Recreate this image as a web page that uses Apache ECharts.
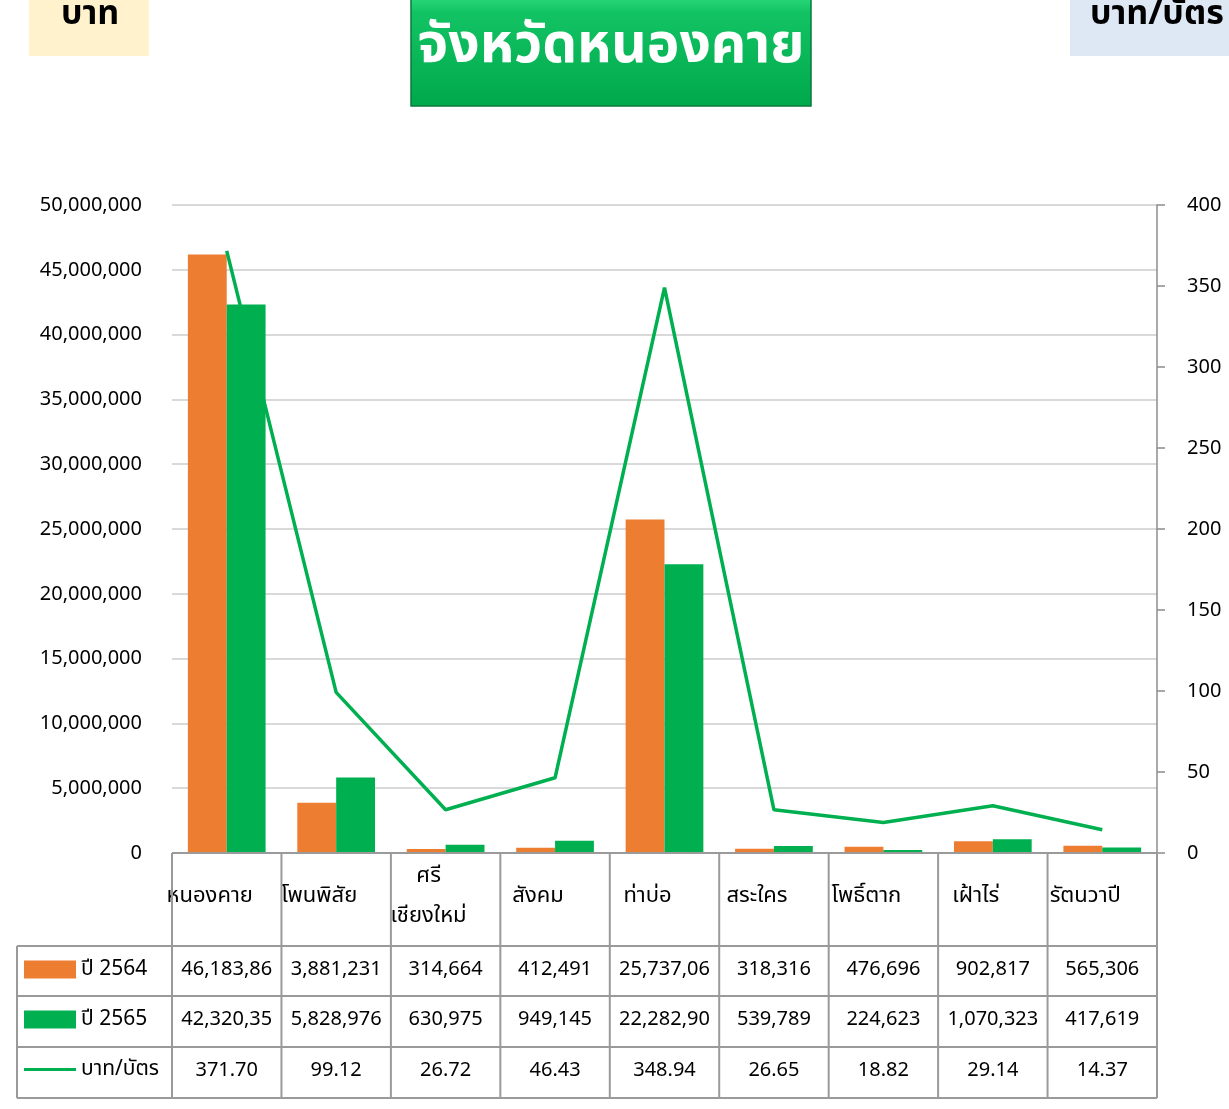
<!DOCTYPE html>
<html>
<head>
<meta charset="utf-8">
<script src="https://cdn.jsdelivr.net/npm/echarts@6/dist/echarts.min.js"></script>
<style>
  html, body { margin: 0; padding: 0; background: #fff; }
  #chart { width: 1229px; height: 1109px; }
</style>
</head>
<body>
<div id="chart"></div>
<script>
// data
const categories = ['หนองคาย', 'โพนพิสัย', 'ศรี\nเชียงใหม่', 'สังคม', 'ท่าบ่อ', 'สระใคร', 'โพธิ์ตาก', 'เฝ้าไร่', 'รัตนวาปี'];
const values2564 = [46183860, 3881231, 314664, 412491, 25737060, 318316, 476696, 902817, 565306];
const values2565 = [42320350, 5828976, 630975, 949145, 22282900, 539789, 224623, 1070323, 417619];
const bahtPerCard = [371.70, 99.12, 26.72, 46.43, 348.94, 26.65, 18.82, 29.14, 14.37];
const seriesNames = ['ปี 2564', 'ปี 2565', 'บาท/บัตร'];
const titleText = 'จังหวัดหนองคาย';
const leftUnit = 'บาท';
const rightUnit = 'บาท/บัตร';

const FONT = '"Noto Sans", "Noto Sans Thai", sans-serif';
const ORANGE = '#ed7d31';
const GREEN = '#00b050';
const GRID = { left: 172, right: 72, top: 205, bottom: 256 };
const ROW_Y = [853, 946, 996, 1047, 1098];
const TABLE_LEFT = 17;

// excel clips long numbers in narrow cells
const cellText = (v) => v.toLocaleString('en-US').slice(0, 9);

const chart = echarts.init(document.getElementById('chart'));

chart.setOption({
  animation: false,
  backgroundColor: '#fff',
  textStyle: { fontFamily: FONT },
  grid: GRID,
  legend: {
    orient: 'vertical',
    left: 19,
    top: 954,
    itemWidth: 52,
    itemHeight: 18,
    itemGap: 29,
    selectedMode: false,
    textStyle: { fontSize: 21, color: '#000', fontFamily: FONT },
    data: [
      { name: seriesNames[0], icon: 'rect' },
      { name: seriesNames[1], icon: 'rect' },
      { name: seriesNames[2], icon: 'path://M0,7.5 L52,7.5 L52,10.5 L0,10.5 Z M0,0 L0.01,0 L0,0.01 Z M0,18 L0.01,18 L0,17.99 Z' }
    ]
  },
  xAxis: {
    type: 'category',
    data: categories,
    axisLine: { show: false },
    axisTick: { show: false },
    axisLabel: {
      interval: 0,
      margin: 43,
      verticalAlign: 'middle',
      lineHeight: 40,
      padding: [0, 34, 0, 0],
      fontSize: 22,
      color: '#000',
      fontFamily: FONT
    }
  },
  yAxis: [
    {
      type: 'value',
      min: 0,
      max: 50000000,
      interval: 5000000,
      axisLine: { show: false },
      axisTick: { show: false },
      axisLabel: {
        margin: 30,
        fontSize: 20,
        color: '#000',
        fontFamily: FONT,
        formatter: (v) => v.toLocaleString('en-US')
      },
      splitLine: { lineStyle: { color: '#d9d9d9', width: 2 } }
    },
    {
      type: 'value',
      min: 0,
      max: 400,
      interval: 50,
      position: 'right',
      axisLine: { show: true, lineStyle: { color: '#8c8c8c', width: 1.5 } },
      axisTick: { show: true, length: 8, lineStyle: { color: '#8c8c8c', width: 1.5 } },
      axisLabel: { margin: 30, fontSize: 20, color: '#000', fontFamily: FONT },
      splitLine: { show: false }
    }
  ],
  series: [
    {
      name: seriesNames[0],
      type: 'bar',
      data: values2564,
      barGap: '0%',
      barCategoryGap: '29%',
      itemStyle: { color: ORANGE }
    },
    {
      name: seriesNames[1],
      type: 'bar',
      data: values2565,
      itemStyle: { color: GREEN }
    },
    {
      name: seriesNames[2],
      type: 'line',
      yAxisIndex: 1,
      data: bahtPerCard,
      symbol: 'none',
      z: 5,
      lineStyle: { color: GREEN, width: 3.5 },
      itemStyle: { color: GREEN }
    }
  ]
});

// data table under the plot, plus header boxes
const plotW = 1229 - GRID.left - GRID.right;
const colW = plotW / categories.length;
const tableRight = GRID.left + plotW;
const lineStyle = { stroke: '#9a9a9a', lineWidth: 2 };
const g = [];

const hLine = (x1, x2, y) => g.push({ type: 'line', shape: { x1, y1: y, x2, y2: y }, style: lineStyle, z: 10 });
const vLine = (x, y1, y2) => g.push({ type: 'line', shape: { x1: x, y1, x2: x, y2 }, style: lineStyle, z: 10 });

hLine(GRID.left, tableRight, ROW_Y[0]);
for (let r = 1; r < ROW_Y.length; r++) hLine(TABLE_LEFT, tableRight, ROW_Y[r]);
for (let i = 0; i <= categories.length; i++) vLine(GRID.left + i * colW, ROW_Y[0], ROW_Y[4]);
vLine(TABLE_LEFT, ROW_Y[1], ROW_Y[4]);

const rows = [
  values2564.map(cellText),
  values2565.map(cellText),
  bahtPerCard.map((v) => v.toFixed(2))
];
rows.forEach((row, r) => {
  const cy = (ROW_Y[r + 1] + ROW_Y[r + 2]) / 2 - 2;
  row.forEach((txt, i) => {
    const cx = chart.convertToPixel({ xAxisIndex: 0 }, i);
    g.push({
      type: 'text',
      x: cx,
      y: cy,
      z: 11,
      style: { text: txt, fill: '#000', font: '20px ' + FONT, align: 'center', verticalAlign: 'middle' }
    });
  });
});

// unit boxes
g.push({ type: 'rect', shape: { x: 29, y: 0, width: 120, height: 56 }, style: { fill: '#fff2cc' } });
g.push({
  type: 'text', x: 90, y: 14,
  style: { text: leftUnit, fill: '#000', font: 'bold 34px ' + FONT, align: 'center', verticalAlign: 'middle' }
});
g.push({ type: 'rect', shape: { x: 1070, y: 0, width: 159, height: 56 }, style: { fill: '#dde8f4' } });
g.push({
  type: 'text', x: 1090, y: 14,
  style: { text: rightUnit, fill: '#000', font: 'bold 34px ' + FONT, align: 'left', verticalAlign: 'middle' }
});

// title box
g.push({
  type: 'rect',
  shape: { x: 411, y: -4, width: 400, height: 110 },
  style: {
    fill: new echarts.graphic.LinearGradient(0, 0, 0, 1, [
      { offset: 0, color: '#2fdc7e' },
      { offset: 0.15, color: '#12c364' },
      { offset: 1, color: '#00a94b' }
    ]),
    stroke: '#0a7a3a',
    lineWidth: 1.5
  }
});
g.push({
  type: 'text', x: 611, y: 46,
  style: { text: titleText, fill: '#fff', font: 'bold 55px ' + FONT, align: 'center', verticalAlign: 'middle' }
});

chart.setOption({ graphic: g });
</script>
</body>
</html>
